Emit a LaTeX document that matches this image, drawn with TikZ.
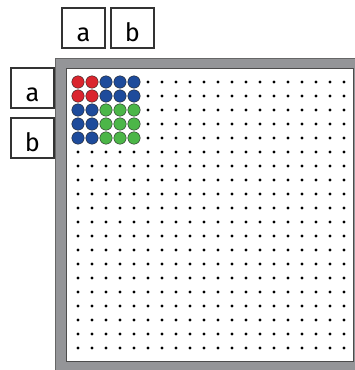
\documentclass[tikz,border=0pt]{standalone}
\usepackage{fontspec}
\setmainfont{Fira Sans}
\definecolor{framegray}{RGB}{148,149,152}
\definecolor{dotred}{RGB}{218,37,46}
\definecolor{dotblue}{RGB}{30,75,155}
\definecolor{dotgreen}{RGB}{76,182,72}
\tikzset{
  tag/.style={draw=black!80,line width=0.5mm,fill=white,inner sep=0pt,minimum width=10.75mm,text height=8.25mm,text depth=1.75mm,anchor=north west,font=\fontsize{18}{20}\selectfont},
  bigdot/.style={draw=black!85,line width=0.3pt},
}
\begin{document}
\begin{tikzpicture}[x=0.25mm,y=-0.25mm]
\useasboundingbox (0,0) rectangle (355,370);
% frame and plate
\draw[fill=framegray,draw=black!60,line width=0.4pt] (55,58) rectangle (362,374);
\draw[fill=white,draw=black!70,line width=0.4pt] (66,68) rectangle (353,361);
% labels
\node[tag] (ta) at (61,7) {a};
\node[tag] (tb) at (110,7) {b};
\node[tag] (la) at (10,67) {a};
\node[tag] (lb) at (10,117) {b};
% small dots
\foreach \i in {5,...,19} \foreach \j in {0,...,19} \fill (78+14*\i,82+14*\j) circle (0.4mm);
\foreach \i in {0,...,4} \foreach \j in {5,...,19} \fill (78+14*\i,82+14*\j) circle (0.4mm);
% coloured block
\foreach \i/\j in {0/0,1/0,0/1,1/1} \draw[bigdot,fill=dotred] (78+14*\i,82+14*\j) circle (1.55mm);
\foreach \i in {2,3,4} \foreach \j in {0,1} \draw[bigdot,fill=dotblue] (78+14*\i,82+14*\j) circle (1.55mm);
\foreach \i in {0,1} \foreach \j in {2,3,4} \draw[bigdot,fill=dotblue] (78+14*\i,82+14*\j) circle (1.55mm);
\foreach \i in {2,3,4} \foreach \j in {2,3,4} \draw[bigdot,fill=dotgreen] (78+14*\i,82+14*\j) circle (1.55mm);
\end{tikzpicture}
\end{document}
